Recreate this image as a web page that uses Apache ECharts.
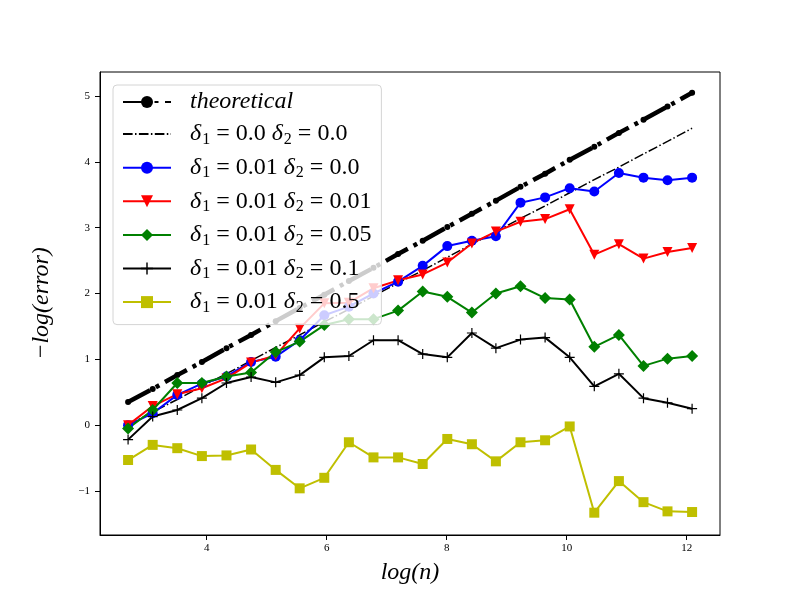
<!DOCTYPE html>
<html>
<head>
<meta charset="utf-8">
<script src="https://cdn.jsdelivr.net/npm/echarts@6/dist/echarts.min.js"></script>
<style>
  html, body { margin: 0; padding: 0; background: #fff; }
  #chart { width: 800px; height: 600px; }
</style>
</head>
<body>
<div id="chart"></div>
<script>
// log(n) at each run
var logN = [2.69, 3.10, 3.51, 3.92, 4.33, 4.74, 5.15, 5.55, 5.96, 6.37, 6.78, 7.19,
            7.60, 8.01, 8.42, 8.82, 9.23, 9.64, 10.05, 10.46, 10.87, 11.28, 11.68, 12.09];

// -log(error) for each curve
var theoretical = [0.35, 0.55, 0.76, 0.96, 1.17, 1.37, 1.58, 1.78, 1.98, 2.19, 2.39, 2.60,
                   2.80, 3.01, 3.21, 3.41, 3.62, 3.82, 4.03, 4.23, 4.44, 4.64, 4.84, 5.05];
var d00_00 = [0.00, 0.20, 0.39, 0.59, 0.78, 0.98, 1.18, 1.37, 1.57, 1.76, 1.96, 2.16,
              2.35, 2.55, 2.75, 2.94, 3.14, 3.33, 3.53, 3.73, 3.92, 4.12, 4.31, 4.51];
var d01_00 = [0.00, 0.18, 0.46, 0.63, 0.74, 0.96, 1.04, 1.29, 1.67, 1.80, 2.00, 2.18,
              2.42, 2.72, 2.80, 2.87, 3.38, 3.46, 3.60, 3.55, 3.83, 3.76, 3.72, 3.76];
var d01_01 = [0.00, 0.29, 0.47, 0.56, 0.71, 0.95, 1.06, 1.47, 1.85, 1.86, 2.08, 2.20,
              2.29, 2.47, 2.76, 2.94, 3.09, 3.13, 3.28, 2.59, 2.75, 2.53, 2.63, 2.69];
var d01_05 = [-0.05, 0.23, 0.64, 0.64, 0.74, 0.80, 1.11, 1.27, 1.52, 1.61, 1.61, 1.74,
              2.03, 1.95, 1.71, 2.00, 2.11, 1.93, 1.91, 1.19, 1.37, 0.90, 1.01, 1.05];
var d01_10 = [-0.22, 0.13, 0.23, 0.41, 0.64, 0.73, 0.65, 0.76, 1.03, 1.05, 1.29, 1.29,
              1.08, 1.03, 1.40, 1.17, 1.30, 1.33, 1.03, 0.59, 0.78, 0.41, 0.34, 0.25];
var d01_50 = [-0.53, -0.30, -0.35, -0.47, -0.46, -0.37, -0.68, -0.96, -0.80, -0.26, -0.49, -0.49,
              -0.59, -0.21, -0.29, -0.55, -0.26, -0.23, -0.02, -1.33, -0.85, -1.17, -1.31, -1.32];

var xTicks = [4, 6, 8, 10, 12];
var yTicks = [-1, 0, 1, 2, 3, 4, 5];

var names = [
    'theoretical',
    'δ1 = 0.0 δ2 = 0.0',
    'δ1 = 0.01 δ2 = 0.0',
    'δ1 = 0.01 δ2 = 0.01',
    'δ1 = 0.01 δ2 = 0.05',
    'δ1 = 0.01 δ2 = 0.1',
    'δ1 = 0.01 δ2 = 0.5'
];

function pairs(ys) {
    return logN.map(function (x, i) { return [x, ys[i]]; });
}

var serif = '"Liberation Serif", "DejaVu Serif", serif';
var plus = 'path://M4.4,0h1.2v10h-1.2z M0,4.4h10v1.2h-10z';
// practically invisible marker, so the legend keeps the line but shows no symbol
var blank = 'path://M0,0h0.01v0.01h-0.01z M100,100h0.01v0.01h-0.01z';

function line(name, ys, color, width, type, symbol, size, extra) {
    var s = {
        name: name,
        type: 'line',
        data: pairs(ys),
        color: color,
        symbol: symbol,
        symbolSize: size,
        showSymbol: symbol !== blank,
        lineStyle: { color: color, width: width, type: type, cap: 'butt' },
        itemStyle: { color: color, borderWidth: 0 },
        emphasis: { disabled: true }
    };
    for (var k in extra) s[k] = extra[k];
    return s;
}

var chart = echarts.init(document.getElementById('chart'));
chart.setOption({
    animation: false,
    backgroundColor: '#fff',
    grid: {
        left: 100, right: 80, top: 72, bottom: 65,
        show: true, borderColor: '#000', borderWidth: 1
    },
    legend: {
        orient: 'vertical',
        left: 113, top: 85,
        padding: [5, 10, 9, 9],
        itemWidth: 48, itemHeight: 15, itemGap: 8.1,
        backgroundColor: 'rgba(255,255,255,0.8)',
        borderColor: '#d4d4d4', borderWidth: 1, borderRadius: 4,
        data: names,
        formatter: function (n) {
            if (n === 'theoretical') return '{i|theoretical}';
            var m = n.match(/δ1 = ([\d.]+) δ2 = ([\d.]+)/);
            return '{i|δ}{s|1}{t| = ' + m[1] + ' }{i|δ}{s|2}{t| = ' + m[2] + '}';
        },
        textStyle: {
            padding: [0, 0, 0, 14],
            rich: {
                i: { fontFamily: serif, fontStyle: 'italic', fontSize: 24, color: '#000' },
                t: { fontFamily: serif, fontSize: 24, color: '#000' },
                s: { fontFamily: serif, fontSize: 16, color: '#000', padding: [11, 0, 0, 1] }
            }
        }
    },
    xAxis: {
        type: 'value',
        min: 2.222, max: 12.555,
        name: 'log(n)',
        nameLocation: 'middle',
        nameGap: 26,
        nameTextStyle: { fontFamily: serif, fontStyle: 'italic', fontSize: 24, color: '#000', verticalAlign: 'top' },
        axisLine: { show: true, onZero: false, lineStyle: { color: '#000', width: 1 } },
        axisTick: { show: true, length: 5, lineStyle: { color: '#000' }, customValues: xTicks },
        axisLabel: { color: '#000', fontFamily: serif, fontSize: 11, margin: 8, customValues: xTicks },
        splitLine: { show: false }
    },
    yAxis: {
        type: 'value',
        min: -1.669, max: 5.365,
        name: '−log(error)',
        nameLocation: 'middle',
        nameGap: 46,
        nameRotate: 90,
        nameTextStyle: { fontFamily: serif, fontStyle: 'italic', fontSize: 24, color: '#000' },
        axisLine: { show: true, onZero: false, lineStyle: { color: '#000', width: 1 } },
        axisTick: { show: true, length: 5, lineStyle: { color: '#000' }, customValues: yTicks },
        axisLabel: {
            color: '#000', fontFamily: serif, fontSize: 11, margin: 10, customValues: yTicks,
            formatter: function (v) { return String(v).replace('-', '−'); }
        },
        splitLine: { show: false }
    },
    series: [
        line(names[0], theoretical, '#000', 4.5, [25, 6.5, 4, 6.5], 'circle', 6),
        line(names[1], d00_00, '#000', 1.5, [9.6, 2.4, 1.5, 2.4], blank, 1),
        line(names[2], d01_00, '#0000ff', 2, 'solid', 'circle', 10),
        line(names[3], d01_01, '#ff0000', 2, 'solid', 'triangle', 10, { symbolRotate: 180 }),
        line(names[4], d01_05, '#008000', 2, 'solid', 'diamond', 12),
        line(names[5], d01_10, '#000', 2, 'solid', plus, 10),
        line(names[6], d01_50, '#bfbf00', 2, 'solid', 'rect', 10)
    ]
});
</script>
</body>
</html>
